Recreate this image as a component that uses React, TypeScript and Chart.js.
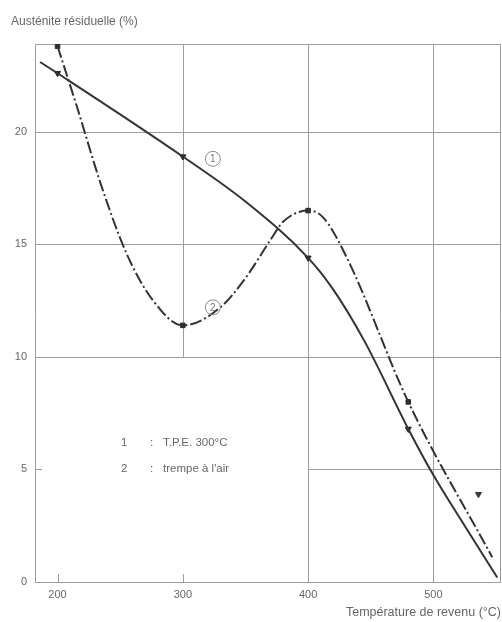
import React, { useEffect, useRef } from "react";
import { Chart, registerables } from "chart.js";

Chart.register(...registerables);

// Curve 1 : T.P.E. 300°C — residual austenite (%) vs tempering temperature (°C)
const tpeTemps = [186, 200, 300, 350, 400, 420, 445, 480, 500, 525, 551];
const tpeAustenite = [23.1, 22.6, 18.9, 16.9, 14.4, 13.0, 10.7, 6.8, 4.75, 2.5, 0.2];

// Curve 2 : trempe à l'air
const airTemps = [200, 215, 235, 255, 275, 300, 330, 350, 370, 380, 400, 412, 431, 480, 547];
const airAustenite = [23.8, 21.2, 17.6, 14.6, 12.6, 11.4, 12.2, 13.5, 15.2, 16.0, 16.5, 16.2, 14.4, 8.0, 1.1];

// Temperatures at which measurements are marked
const measuredTemps = [200, 300, 400, 480];

// Isolated measurement
const extraTemps = [536];
const extraAustenite = [3.9];

// Axis ticks
const xTicks = [200, 300, 400, 500];
const yTicks = [0, 5, 10, 15, 20];

// Grid layout of the printed figure
const fullHLines = [10, 15, 20];
const fullVLines = [400, 500];

const INK = "#333333";
const GRID = "#9c9c9c";
const TEXT = "#666666";
const FONT = "'Liberation Sans', Arial, sans-serif";

const pick = (temps: number[], vals: number[]) =>
  temps
    .map((t, i) => ({ x: t, y: vals[i] }))
    .filter((p) => measuredTemps.includes(p.x));

const figurePlugin = {
  id: "figureDecor",
  beforeDatasetsDraw(chart: any) {
    const { ctx, chartArea: a, scales } = chart;
    const x = scales.x;
    const y = scales.y;
    ctx.save();
    ctx.strokeStyle = GRID;
    ctx.lineWidth = 1;
    ctx.beginPath();
    // frame
    ctx.rect(a.left + 0.5, a.top + 0.5, a.right - a.left - 1, a.bottom - a.top);
    // full horizontal lines
    fullHLines.forEach((v) => {
      const py = Math.round(y.getPixelForValue(v)) + 0.5;
      ctx.moveTo(a.left, py);
      ctx.lineTo(a.right, py);
    });
    // partial horizontal line at 5 (from 400 °C onward) and short tick at left
    const y5 = Math.round(y.getPixelForValue(5)) + 0.5;
    ctx.moveTo(x.getPixelForValue(400), y5);
    ctx.lineTo(a.right, y5);
    ctx.moveTo(a.left, y5);
    ctx.lineTo(a.left + 7, y5);
    // full vertical lines
    fullVLines.forEach((v) => {
      const px = Math.round(x.getPixelForValue(v)) + 0.5;
      ctx.moveTo(px, a.top);
      ctx.lineTo(px, a.bottom);
    });
    // vertical at 300 down to the 10 % line
    const x300 = Math.round(x.getPixelForValue(300)) + 0.5;
    ctx.moveTo(x300, a.top);
    ctx.lineTo(x300, y.getPixelForValue(10));
    // short ticks at bottom
    [200, 300].forEach((v) => {
      const px = Math.round(x.getPixelForValue(v)) + 0.5;
      ctx.moveTo(px, a.bottom);
      ctx.lineTo(px, a.bottom - 8);
    });
    ctx.stroke();
    ctx.restore();
  },
  afterDatasetsDraw(chart: any) {
    const { ctx, chartArea: a, scales } = chart;
    const x = scales.x;
    const y = scales.y;
    ctx.save();
    // curve numbers in circles
    const tags = [
      { t: 324, v: 18.8, s: "1" },
      { t: 324, v: 12.2, s: "2" },
    ];
    ctx.strokeStyle = "#8a8a8a";
    ctx.fillStyle = "#777777";
    ctx.lineWidth = 1;
    ctx.font = `10px ${FONT}`;
    ctx.textAlign = "center";
    ctx.textBaseline = "middle";
    tags.forEach((g) => {
      const px = x.getPixelForValue(g.t);
      const py = y.getPixelForValue(g.v);
      ctx.beginPath();
      ctx.arc(px, py, 7.5, 0, Math.PI * 2);
      ctx.stroke();
      ctx.fillText(g.s, px, py + 0.5);
    });

    // key text
    ctx.fillStyle = TEXT;
    ctx.font = `11.5px ${FONT}`;
    ctx.textAlign = "left";
    const rows = [
      { n: "1", txt: "T.P.E. 300°C", py: 443 },
      { n: "2", txt: "trempe à l'air", py: 469 },
    ];
    rows.forEach((r) => {
      ctx.fillText(r.n, a.left + 86, r.py);
      ctx.fillText(":", a.left + 115, r.py);
      ctx.fillText(r.txt, a.left + 128, r.py);
    });

    // axis titles
    ctx.font = `12px ${FONT}`;
    ctx.textAlign = "left";
    ctx.fillText("Austénite résiduelle (%)", 11, 22);
    ctx.font = `12.5px ${FONT}`;
    ctx.textAlign = "right";
    ctx.fillText("Température de revenu (°C)", 501, 613);
    ctx.restore();
  },
};

export default function App() {
  const canvasRef = useRef<HTMLCanvasElement | null>(null);

  useEffect(() => {
    const canvas = canvasRef.current;
    if (!canvas) return;

    const chart = new Chart(canvas, {
      type: "line",
      data: {
        datasets: [
          {
            label: "T.P.E. 300°C",
            data: tpeTemps.map((t, i) => ({ x: t, y: tpeAustenite[i] })),
            borderColor: INK,
            borderWidth: 2,
            pointRadius: 0,
            cubicInterpolationMode: "monotone",
            fill: false,
          },
          {
            label: "trempe à l'air",
            data: airTemps.map((t, i) => ({ x: t, y: airAustenite[i] })),
            borderColor: INK,
            borderWidth: 2,
            borderDash: [12, 3, 2, 3],
            pointRadius: 0,
            cubicInterpolationMode: "monotone",
            fill: false,
          },
          {
            type: "scatter",
            label: "points 1",
            data: pick(tpeTemps, tpeAustenite),
            pointStyle: "triangle",
            rotation: 180,
            pointRadius: 3.5,
            backgroundColor: "#2a2a2a",
            borderColor: "#2a2a2a",
            showLine: false,
          },
          {
            type: "scatter",
            label: "points 2",
            data: pick(airTemps, airAustenite),
            pointStyle: "rect",
            pointRadius: 3.2,
            backgroundColor: "#2a2a2a",
            borderColor: "#2a2a2a",
            showLine: false,
          },
          {
            type: "scatter",
            label: "point isolé",
            data: extraTemps.map((t, i) => ({ x: t, y: extraAustenite[i] })),
            pointStyle: "triangle",
            rotation: 180,
            pointRadius: 3.5,
            backgroundColor: "#3a3a3a",
            borderColor: "#3a3a3a",
            showLine: false,
          },
        ],
      },
      options: {
        responsive: false,
        animation: false,
        layout: { autoPadding: false, padding: { top: 44, right: 1, left: 0, bottom: 0 } },
        plugins: {
          legend: { display: false },
          tooltip: { enabled: false },
        },
        scales: {
          x: {
            type: "linear",
            min: 182,
            max: 554,
            grid: { display: false, drawTicks: false },
            border: { display: false },
            afterBuildTicks: (s: any) => {
              s.ticks = xTicks.map((v) => ({ value: v }));
            },
            afterFit: (s: any) => {
              s.height = 40;
            },
            ticks: {
              color: TEXT,
              padding: 6,
              font: { family: FONT, size: 11 },
              maxRotation: 0,
            },
          },
          y: {
            type: "linear",
            min: 0,
            max: 23.9,
            grid: { display: false, drawTicks: false },
            border: { display: false },
            afterBuildTicks: (s: any) => {
              s.ticks = yTicks.map((v) => ({ value: v }));
            },
            afterFit: (s: any) => {
              s.width = 35;
            },
            ticks: {
              color: TEXT,
              padding: 8,
              font: { family: FONT, size: 11 },
            },
          },
        },
      },
      plugins: [figurePlugin],
    } as any);

    return () => chart.destroy();
  }, []);

  return (
    <div
      style={{
        position: "fixed",
        left: 0,
        top: 0,
        width: 502,
        height: 622,
        background: "#ffffff",
      }}
    >
      <canvas ref={canvasRef} width={502} height={622} />
    </div>
  );
}
